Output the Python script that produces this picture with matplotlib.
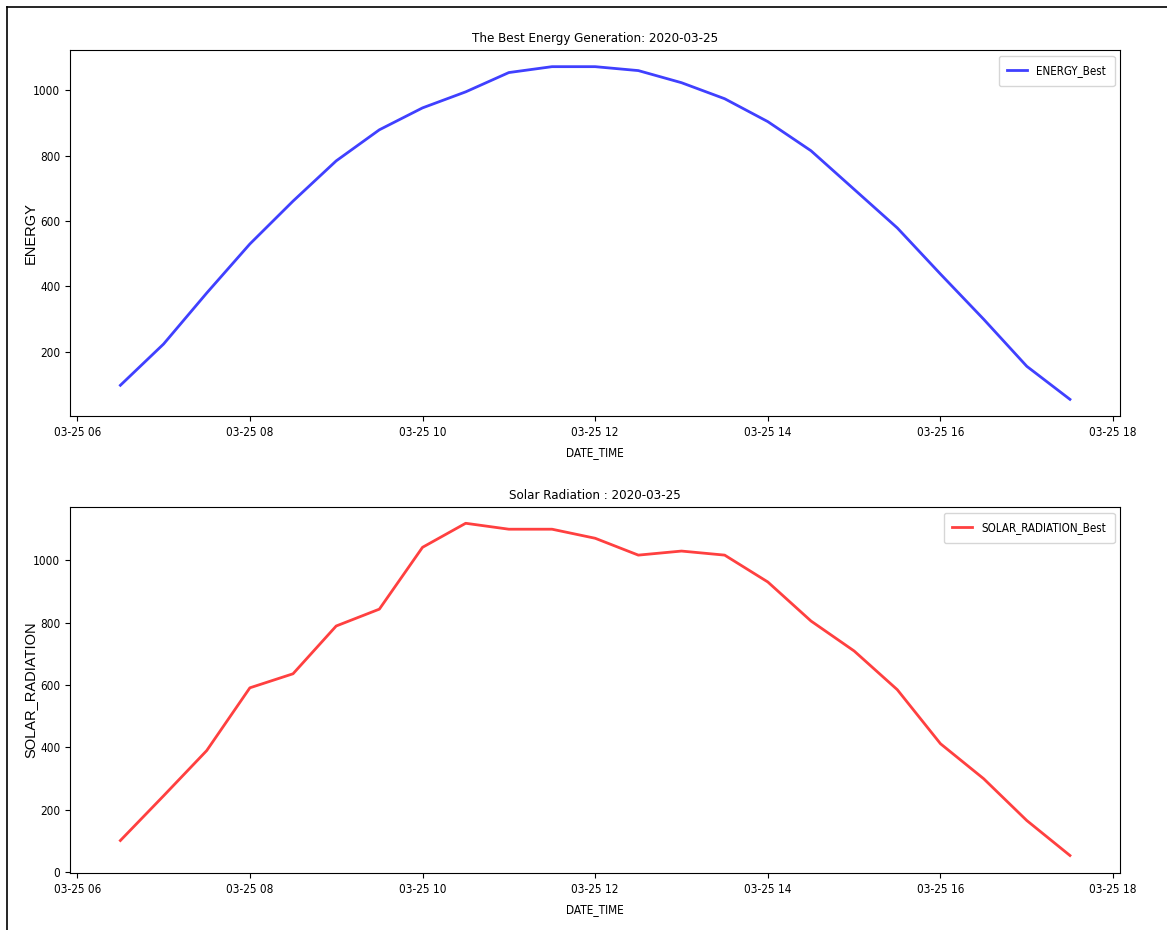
import datetime as dt

import matplotlib
matplotlib.use("Agg")
import matplotlib.pyplot as plt
import matplotlib.dates as mdates
from matplotlib.lines import Line2D

# half-hourly readings on 2020-03-25, 06:30 .. 17:30
times = ["06:30", "07:00", "07:30", "08:00", "08:30", "09:00", "09:30", "10:00",
         "10:30", "11:00", "11:30", "12:00", "12:30", "13:00", "13:30", "14:00",
         "14:30", "15:00", "15:30", "16:00", "16:30", "17:00", "17:30"]
energy_best = [98, 224, 380, 530, 661, 784, 879, 946, 995, 1054, 1072, 1072,
               1060, 1023, 974, 904, 815, 697, 579, 438, 300, 156, 55]
solar_best = [102, 245, 390, 591, 636, 789, 843, 1041, 1118, 1099, 1099, 1070,
              1016, 1029, 1016, 930, 805, 709, 585, 412, 300, 166, 54]

day = "2020-03-25"
stamps = [dt.datetime.strptime(f"{day} {t}", "%Y-%m-%d %H:%M") for t in times]

# the screenshot is squeezed sideways, so use condensed glyphs for most text
NARROW = dict(family="DejaVu Sans", stretch="condensed")

fig = plt.figure(figsize=(11.67, 9.3), dpi=100)

# screenshot frame on left and top
fig.add_artist(Line2D([0.006, 0.006], [0, 0.993], color="black", lw=1.2,
                      transform=fig.transFigure))
fig.add_artist(Line2D([0.006, 1.0], [0.993, 0.993], color="black", lw=1.2,
                      transform=fig.transFigure))

ax1 = fig.add_axes([0.060, 0.5527, 0.900, 0.3935])
ax2 = fig.add_axes([0.060, 0.0613, 0.900, 0.3935])

panels = [
    (ax1, energy_best, "blue", "ENERGY_Best", "ENERGY",
     f"The Best Energy Generation: {day}"),
    (ax2, solar_best, "red", "SOLAR_RADIATION_Best", "SOLAR_RADIATION",
     f"Solar Radiation : {day}"),
]

for ax, vals, col, lab, ylab, title in panels:
    ax.plot(stamps, vals, color=col, alpha=0.75, lw=2.0, label=lab)
    ax.set_xlim(dt.datetime(2020, 3, 25, 5, 55), dt.datetime(2020, 3, 25, 18, 5))
    ax.xaxis.set_major_locator(mdates.HourLocator(byhour=range(6, 19, 2)))
    ax.xaxis.set_major_formatter(mdates.DateFormatter("%m-%d %H"))
    ax.set_xlabel("DATE_TIME", fontsize=8.5, labelpad=5, **NARROW)
    ax.set_ylabel(ylab, fontsize=10.5, family="Liberation Sans")
    ax.yaxis.set_label_coords(-0.031, 0.5)
    ax.set_title(title, fontsize=9.5, **NARROW)
    ax.legend(loc="upper right", prop=dict(size=8.3, **NARROW),
              handlelength=1.7, handletextpad=0.8, borderpad=0.75)

ax2.set_ylim(-2, 1170)
ax2.set_yticks([0, 200, 400, 600, 800, 1000])
ax1.set_yticks([200, 400, 600, 800, 1000])
for ax in (ax1, ax2):
    for t in ax.get_xticklabels() + ax.get_yticklabels():
        t.set_fontfamily(NARROW["family"])
        t.set_fontstretch(NARROW["stretch"])
        t.set_fontsize(8.5)

fig.savefig("out.png", dpi=100)
